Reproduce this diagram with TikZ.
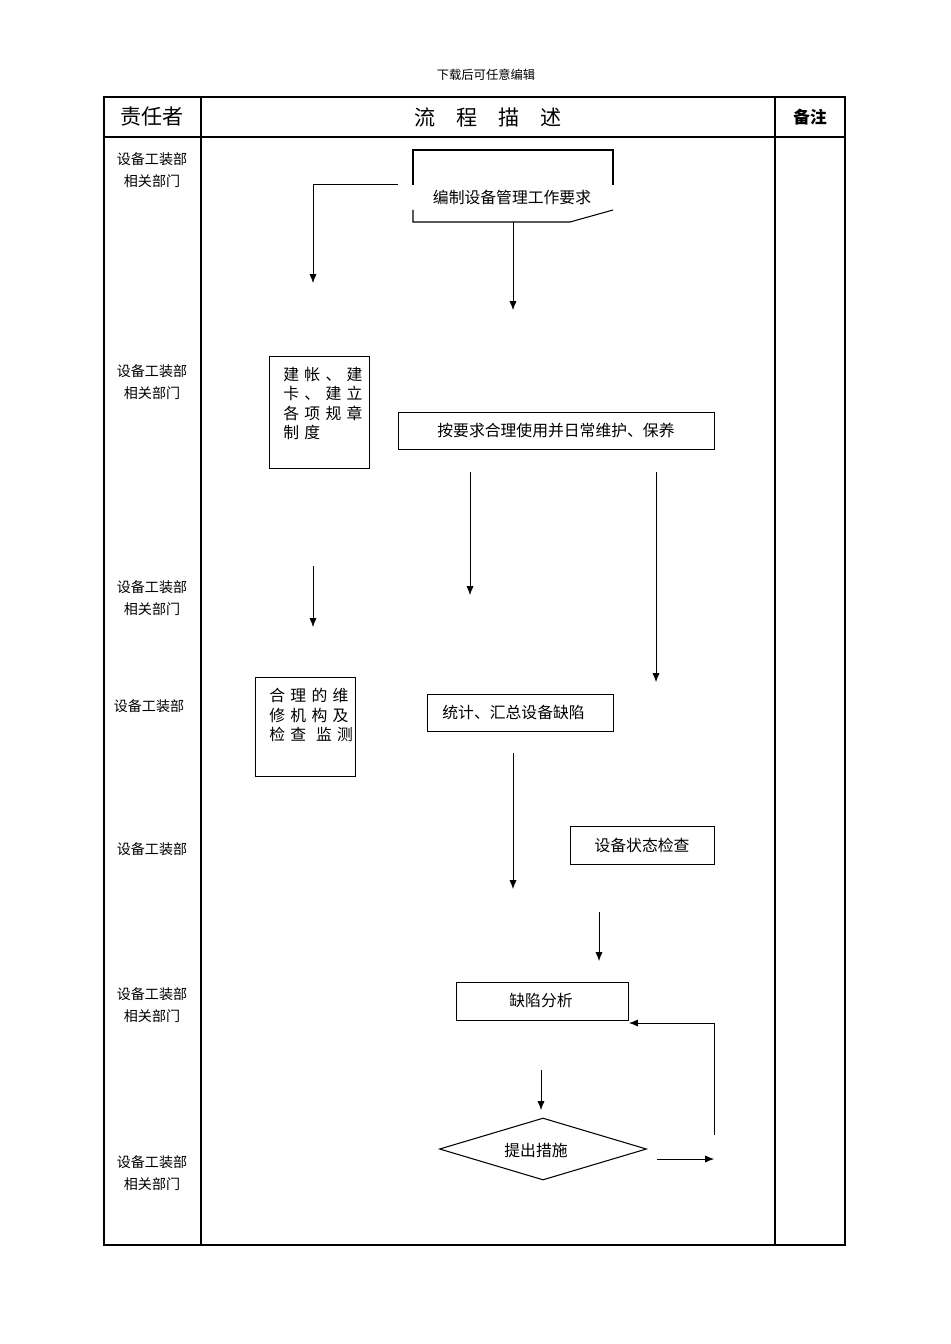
\documentclass[tikz,border=0pt]{standalone}
\usepackage{fontspec}
\newfontfamily\cjk{Noto Sans CJK SC}
\usetikzlibrary{shapes.geometric}
\usetikzlibrary{arrows.meta}
\tikzset{
  box/.style={draw, inner sep=0pt, anchor=north west},
  txt/.style={font=\cjk\fontsize{9}{10.6}\selectfont},
  who/.style={font=\cjk\fontsize{8}{12.8}\selectfont, align=center},
  flow/.style={-{Latex[length=5pt,width=4pt]}, thin},
}
\begin{document}
\begin{tikzpicture}[x=0.02cm, y=-0.02cm, line width=0.6pt]
\useasboundingbox (0,0) rectangle (950,1344);
% Page header
\node[font=\cjk\fontsize{7}{8}\selectfont] (top) at (486,75) {下载后可任意编辑};
% Table
\draw (104,97) rectangle (845,1245);
\draw (104,137) -- (845,137);
\draw (201,97) -- (201,1245);
\draw (775,97) -- (775,1245);
\node[font=\cjk\fontsize{12}{13}\selectfont] (h1) at (152,117) {责任者};
\node[font=\cjk\fontsize{12}{13}\selectfont] (h2) at (488,117) {流\quad 程\quad 描\quad 述};
\node[font=\cjk\bfseries\fontsize{9.5}{11}\selectfont] (h3) at (810,117) {备注};
% Responsible
\node[who] (w1) at (152,170) {设备工装部\\相关部门};
\node[who] (w2) at (152,382) {设备工装部\\相关部门};
\node[who] (w3) at (152,598) {设备工装部\\相关部门};
\node[who] (w4) at (149,706) {设备工装部};
\node[who] (w5) at (152,849) {设备工装部};
\node[who] (w6) at (152,1005) {设备工装部\\相关部门};
\node[who] (w7) at (152,1173) {设备工装部\\相关部门};
% Document shape
\draw (413,185) -- (413,150) -- (613,150) -- (613,185);
\draw (413,210) -- (413,222) -- (570,222) -- (613,210);
\node[txt] (doc) at (512,197) {编制设备管理工作要求};
\coordinate (docb) at (513,222);
\coordinate (docl) at (398,184);
% Boxes
\node[box, minimum width=100*0.02cm, minimum height=112*0.02cm] (acc) at (269,356) {};
\node[txt, anchor=north west, align=left, font=\cjk\fontsize{9}{11}\selectfont] (acct) at (277,361) {建\,\,帐\,\,、\,\,建\\卡\,\,、\,\,建\,\,立\\各\,\,项\,\,规\,\,章\\制\,\,度};
\node[box, minimum width=316*0.02cm, minimum height=37*0.02cm] (use) at (398,412) {};
\node[txt] (uset) at (556,430) {按要求合理使用并日常维护、保养};
\node[box, minimum width=100*0.02cm, minimum height=99*0.02cm] (org) at (255,677) {};
\node[txt, anchor=north west, align=left, font=\cjk\fontsize{9}{11}\selectfont] (orgt) at (263,682) {合\,\,理\,\,的\,\,维\\修\,\,机\,\,构\,\,及\\检\,\,查\ \ \,监\,\,测};
\node[box, minimum width=186*0.02cm, minimum height=37*0.02cm] (sum) at (427,694) {};
\node[txt, anchor=west] (sumt) at (436,712) {统计、汇总设备缺陷};
\node[box, minimum width=144*0.02cm, minimum height=38*0.02cm] (chk) at (570,826) {};
\node[txt] (chkt) at (642,845) {设备状态检查};
\node[box, minimum width=172*0.02cm, minimum height=38*0.02cm] (ana) at (456,982) {};
\node[txt] (anat) at (541,1000) {缺陷分析};
\node[draw, diamond, aspect=3.3, minimum width=207*0.02cm, minimum height=62*0.02cm, inner sep=0pt] (mea) at (543,1149) {};
\node[txt] (meat) at (536,1150) {提出措施};
% Connectors
\coordinate (a1) at (313,184);
\coordinate (a2) at (313,283);
\draw[flow] (docl) -- (a1) -- (a2);
\coordinate (a3) at (513,310);
\draw[flow] (docb) -- (a3);
\coordinate (b1) at (470,472); \coordinate (b2) at (470,595);
\draw[flow] (b1) -- (b2);
\coordinate (c1) at (656,472); \coordinate (c2) at (656,682);
\draw[flow] (c1) -- (c2);
\coordinate (d1) at (313,566); \coordinate (d2) at (313,627);
\draw[flow] (d1) -- (d2);
\coordinate (e1) at (513,753); \coordinate (e2) at (513,889);
\draw[flow] (e1) -- (e2);
\coordinate (f1) at (599,912); \coordinate (f2) at (599,961);
\draw[flow] (f1) -- (f2);
\coordinate (g1) at (541,1070); \coordinate (g2) at (541,1110);
\draw[flow] (g1) -- (g2);
\coordinate (h1) at (657,1159); \coordinate (h2) at (714,1159);
\draw[flow] (h1) -- (h2);
\coordinate (k1) at (714,1135); \coordinate (k2) at (714,1023);
\draw[flow] (k1) -- (k2) -- (ana.north east |- k2);
\end{tikzpicture}
\end{document}
